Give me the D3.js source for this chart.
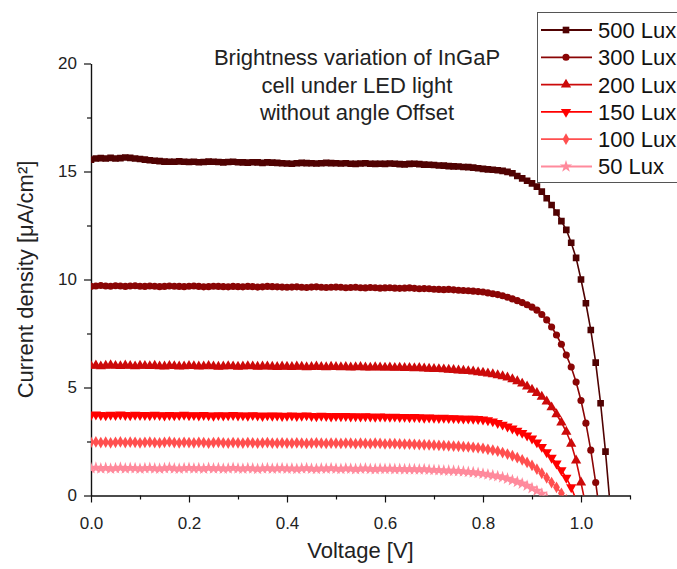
<!DOCTYPE html>
<html>
<head>
<meta charset="utf-8">
<script src="https://cdn.jsdelivr.net/npm/d3@7"></script>
<style>
  body { margin: 0; background: #fff; }
  svg { font-family: 'Liberation Sans', Arial, sans-serif; }
  .axis path, .axis line { stroke: #111; stroke-width: 1.2; }
  .axis text { font-size: 17px; fill: #222; font-family: 'Liberation Sans', Arial, sans-serif; }
</style>
</head>
<body>
<svg width="677" height="569"></svg>
<script>
// Voltage steps (V)
const voltage = [
  0.00, 0.01, 0.02, 0.03, 0.04, 0.05, 0.06, 0.07, 0.08, 0.09, 0.10,
  0.11, 0.12, 0.13, 0.14, 0.15, 0.16, 0.17, 0.18, 0.19, 0.20,
  0.21, 0.22, 0.23, 0.24, 0.25, 0.26, 0.27, 0.28, 0.29, 0.30,
  0.31, 0.32, 0.33, 0.34, 0.35, 0.36, 0.37, 0.38, 0.39, 0.40,
  0.41, 0.42, 0.43, 0.44, 0.45, 0.46, 0.47, 0.48, 0.49, 0.50,
  0.51, 0.52, 0.53, 0.54, 0.55, 0.56, 0.57, 0.58, 0.59, 0.60,
  0.61, 0.62, 0.63, 0.64, 0.65, 0.66, 0.67, 0.68, 0.69, 0.70,
  0.71, 0.72, 0.73, 0.74, 0.75, 0.76, 0.77, 0.78, 0.79, 0.80,
  0.81, 0.82, 0.83, 0.84, 0.85, 0.86, 0.87, 0.88, 0.89, 0.90,
  0.91, 0.92, 0.93, 0.94, 0.95, 0.96, 0.97, 0.98, 0.99, 1.00,
  1.01, 1.02, 1.03, 1.04, 1.05, 1.06
]

// Current density (uA/cm2) per brightness, same index as voltage
const lux500 = [
  15.55, 15.6, 15.62, 15.6, 15.63, 15.6, 15.62, 15.65, 15.63, 15.6, 15.58,
  15.55, 15.52, 15.5, 15.48, 15.46, 15.45, 15.45, 15.47, 15.45, 15.44,
  15.45, 15.43, 15.44, 15.46, 15.45, 15.44, 15.42, 15.44, 15.45, 15.43,
  15.42, 15.41, 15.43, 15.42, 15.4, 15.42, 15.41, 15.4, 15.38, 15.37,
  15.36, 15.38, 15.4, 15.39, 15.38, 15.37, 15.38, 15.4, 15.39, 15.38,
  15.37, 15.38, 15.36, 15.35, 15.37, 15.38, 15.36, 15.35, 15.36, 15.35,
  15.37, 15.36, 15.34, 15.33, 15.35, 15.36, 15.34, 15.32, 15.31, 15.3,
  15.28, 15.27, 15.25, 15.24, 15.23, 15.21, 15.2, 15.18, 15.15, 15.12,
  15.1, 15.08, 15.06, 15.03, 14.98, 14.92, 14.79, 14.68, 14.57, 14.45,
  14.3, 14.07, 13.76, 13.45, 13.1, 12.7, 12.3, 11.7, 11.0, 10.0,
  8.9, 7.66, 6.15, 4.27, 2.03, -0.6
]
const lux300 = [
  9.68, 9.7, 9.72, 9.7, 9.69, 9.71, 9.7, 9.68, 9.7, 9.71, 9.69,
  9.68, 9.7, 9.69, 9.67, 9.68, 9.7, 9.69, 9.68, 9.67, 9.69,
  9.7, 9.68, 9.66, 9.67, 9.69, 9.68, 9.67, 9.66, 9.68, 9.67,
  9.66, 9.68, 9.67, 9.65, 9.66, 9.68, 9.67, 9.66, 9.65, 9.64,
  9.65, 9.66, 9.64, 9.63, 9.65, 9.66, 9.64, 9.63, 9.64, 9.65,
  9.64, 9.62, 9.63, 9.64, 9.62, 9.61, 9.63, 9.62, 9.6, 9.61,
  9.62, 9.6, 9.59, 9.6, 9.61, 9.59, 9.57, 9.58, 9.57, 9.55,
  9.54, 9.53, 9.54, 9.52, 9.5, 9.49, 9.48, 9.46, 9.44, 9.42,
  9.38, 9.34, 9.3, 9.25, 9.18, 9.1, 9.02, 8.93, 8.83, 8.72,
  8.58, 8.38, 8.13, 7.8, 7.43, 7.0, 6.5, 5.95, 5.25, 4.4,
  3.35, 2.1, 0.6, -1.1
]
const lux200 = [
  6.0, 6.02, 5.98, 6.01, 6.03, 6.0, 5.99, 6.02, 6.0, 5.98, 6.01,
  6.0, 5.99, 6.01, 5.98, 5.97, 6.0, 5.99, 5.97, 5.98, 6.0,
  5.99, 5.97, 5.98, 6.0, 5.98, 5.96, 5.97, 5.99, 5.98, 5.96,
  5.97, 5.99, 5.98, 5.96, 5.97, 5.98, 5.96, 5.95, 5.97, 5.96,
  5.95, 5.97, 5.96, 5.94, 5.95, 5.97, 5.95, 5.94, 5.96, 5.95,
  5.94, 5.95, 5.93, 5.94, 5.95, 5.93, 5.92, 5.94, 5.93, 5.92,
  5.93, 5.91, 5.92, 5.9, 5.91, 5.89, 5.9, 5.88, 5.87, 5.86,
  5.85, 5.84, 5.82, 5.81, 5.79, 5.78, 5.76, 5.74, 5.71, 5.68,
  5.65, 5.61, 5.57, 5.52, 5.46, 5.38, 5.29, 5.18, 5.05, 4.9,
  4.75, 4.57, 4.35, 4.08, 3.76, 3.38, 2.95, 2.4, 1.62, 0.6,
  -0.5
]
const lux150 = [
  3.72, 3.75, 3.73, 3.71, 3.74, 3.72, 3.75, 3.73, 3.71, 3.74, 3.72,
  3.73, 3.71, 3.74, 3.72, 3.7, 3.73, 3.71, 3.72, 3.74, 3.71,
  3.72, 3.7, 3.73, 3.71, 3.69, 3.72, 3.7, 3.71, 3.73, 3.7,
  3.71, 3.69, 3.72, 3.7, 3.68, 3.71, 3.69, 3.7, 3.68, 3.69,
  3.7, 3.68, 3.69, 3.71, 3.68, 3.67, 3.69, 3.68, 3.66, 3.68,
  3.67, 3.68, 3.66, 3.67, 3.65, 3.67, 3.66, 3.64, 3.66, 3.65,
  3.64, 3.65, 3.63, 3.64, 3.62, 3.63, 3.62, 3.6, 3.61, 3.6,
  3.59, 3.6, 3.58, 3.58, 3.57, 3.56, 3.56, 3.55, 3.54, 3.52,
  3.48, 3.43, 3.36, 3.28, 3.19, 3.1, 3.0, 2.9, 2.78, 2.64,
  2.46, 2.25, 2.0, 1.75, 1.48, 1.17, 0.82, 0.38, -0.2
]
const lux100 = [
  2.46, 2.48, 2.45, 2.47, 2.44, 2.46, 2.48, 2.45, 2.47, 2.46, 2.44,
  2.46, 2.47, 2.45, 2.44, 2.46, 2.48, 2.45, 2.44, 2.46, 2.45,
  2.44, 2.46, 2.45, 2.43, 2.45, 2.46, 2.44, 2.43, 2.45, 2.44,
  2.43, 2.45, 2.44, 2.42, 2.44, 2.45, 2.43, 2.42, 2.44, 2.43,
  2.42, 2.44, 2.43, 2.41, 2.43, 2.44, 2.42, 2.41, 2.43, 2.42,
  2.41, 2.43, 2.42, 2.4, 2.42, 2.41, 2.4, 2.42, 2.41, 2.39,
  2.4, 2.4, 2.39, 2.38, 2.38, 2.37, 2.36, 2.35, 2.34, 2.33,
  2.32, 2.31, 2.3, 2.29, 2.28, 2.26, 2.25, 2.23, 2.21, 2.18,
  2.14, 2.1, 2.05, 1.99, 1.92, 1.84, 1.75, 1.65, 1.53, 1.39,
  1.22, 1.03, 0.82, 0.6, 0.38, 0.1, -0.2
]
const lux50 = [
  1.26, 1.28, 1.25, 1.27, 1.24, 1.26, 1.28, 1.25, 1.27, 1.26, 1.24,
  1.26, 1.27, 1.25, 1.24, 1.26, 1.28, 1.25, 1.24, 1.26, 1.27,
  1.25, 1.26, 1.24, 1.27, 1.25, 1.26, 1.24, 1.25, 1.27, 1.25,
  1.24, 1.26, 1.25, 1.23, 1.25, 1.26, 1.24, 1.25, 1.26, 1.24,
  1.25, 1.23, 1.25, 1.26, 1.24, 1.23, 1.25, 1.24, 1.26, 1.24,
  1.23, 1.25, 1.24, 1.22, 1.24, 1.25, 1.23, 1.22, 1.24, 1.23,
  1.24, 1.22, 1.23, 1.21, 1.22, 1.21, 1.2, 1.21, 1.19, 1.18,
  1.17, 1.16, 1.15, 1.14, 1.13, 1.11, 1.09, 1.07, 1.04, 1.01,
  0.97, 0.93, 0.89, 0.84, 0.78, 0.71, 0.63, 0.55, 0.45, 0.34,
  0.22, 0.08, -0.1
]

const seriesNames = ['500 Lux', '300 Lux', '200 Lux', '150 Lux', '100 Lux', '50 Lux']
const xTicks = [0.0, 0.2, 0.4, 0.6, 0.8, 1.0]
const xMinorTicks = [0.1, 0.3, 0.5, 0.7, 0.9, 1.1]
const yTicks = [0, 5, 10, 15, 20]
const yMinorTicks = [2.5, 7.5, 12.5, 17.5]
const titleLines = ['Brightness variation of InGaP', 'cell under LED light', 'without angle Offset']

const chartInit = () => {
  const svg = d3.select('svg')

  let xPixelMin = 91
  let xPixelMax = 630
  let yPixelMin = 63.5
  let yPixelMax = 495.5

  const colors = ['#500202', '#8a0505', '#cc0a0a', '#ff0000', '#ff4f4f', '#ff8a9c']
  const symbols = [
    d3.symbol(d3.symbolSquare, 44),
    d3.symbol(d3.symbolCircle, 40),
    d3.symbol(d3.symbolTriangle, 46),
    d3.symbol(d3.symbolTriangle, 46),
    d3.symbol(d3.symbolDiamond, 40),
    d3.symbol(d3.symbolStar, 48)
  ]
  const flips = [false, false, false, true, false, false]

  const allSeries = [lux500, lux300, lux200, lux150, lux100, lux50].map((vals, i) => ({
    name: seriesNames[i],
    color: colors[i],
    points: vals.map((j, k) => ({ v: voltage[k], j: j }))
  }))

  // Scales
  let xScale = d3.scaleLinear().domain([0, 1.1]).range([xPixelMin, xPixelMax])
  let yScale = d3.scaleLinear().domain([0, 20]).range([yPixelMax, yPixelMin])

  // Axes
  svg.append('g')
    .attr('class', 'axis')
    .attr('transform', `translate(0, ${yPixelMax})`)
    .call(d3.axisBottom(xScale).tickValues(xMinorTicks).tickSize(4).tickSizeOuter(0).tickFormat(''))

  svg.append('g')
    .attr('class', 'axis')
    .attr('transform', `translate(0, ${yPixelMax})`)
    .call(d3.axisBottom(xScale).tickValues(xTicks).tickSize(7).tickSizeOuter(0).tickPadding(14).tickFormat(d3.format('.1f')))

  svg.append('g')
    .attr('class', 'axis')
    .attr('transform', `translate(${xPixelMin}, 0)`)
    .call(d3.axisLeft(yScale).tickValues(yMinorTicks).tickSize(4).tickSizeOuter(0).tickFormat(''))

  svg.append('g')
    .attr('class', 'axis')
    .attr('transform', `translate(${xPixelMin}, 0)`)
    .call(d3.axisLeft(yScale).tickValues(yTicks).tickSize(7).tickSizeOuter(0).tickPadding(7))

  // Axis titles
  svg.append('text')
    .attr('x', (xPixelMin + xPixelMax) / 2)
    .attr('y', 558)
    .attr('text-anchor', 'middle')
    .style('font-size', '22px')
    .style('fill', '#222')
    .text('Voltage [V]')

  svg.append('text')
    .attr('transform', `translate(33, ${(yPixelMin + yPixelMax) / 2}) rotate(-90)`)
    .attr('text-anchor', 'middle')
    .style('font-size', '22px')
    .style('fill', '#222')
    .text('Current density [μA/cm²]')

  // Title
  svg.append('g')
    .selectAll('text')
    .data(titleLines)
    .enter()
    .append('text')
    .attr('x', 357)
    .attr('y', (d, i) => 65 + i * 27.5)
    .attr('text-anchor', 'middle')
    .style('font-size', '22px')
    .style('fill', '#222')
    .text((d) => d)

  // Plot clip
  svg.append('clipPath')
    .attr('id', 'plotClip')
    .append('rect')
    .attr('x', xPixelMin)
    .attr('y', yPixelMin - 10)
    .attr('width', xPixelMax - xPixelMin)
    .attr('height', yPixelMax - yPixelMin + 10)

  const plot = svg.append('g').attr('clip-path', 'url(#plotClip)')

  let line = d3.line()
    .x((d) => xScale(d.v))
    .y((d) => yScale(d.j))

  allSeries.forEach((s, i) => {
    plot.append('path')
      .attr('d', line(s.points))
      .attr('fill', 'none')
      .attr('stroke', s.color)
      .attr('stroke-width', 1.6)

    plot.selectAll('path.m' + i)
      .data(s.points)
      .enter()
      .append('path')
      .attr('class', 'm' + i)
      .attr('d', symbols[i]())
      .attr('transform', (d) => `translate(${xScale(d.v)}, ${yScale(d.j)})` + (flips[i] ? ' rotate(180)' : ''))
      .style('fill', s.color)
  })

  // Legend
  const legend = svg.append('g')
  legend.append('rect')
    .attr('x', 537.5)
    .attr('y', 12.5)
    .attr('width', 160)
    .attr('height', 170)
    .attr('fill', '#fff')
    .attr('stroke', '#555')
    .attr('stroke-width', 1)

  allSeries.forEach((s, i) => {
    let ly = 30 + i * 27.3
    legend.append('line')
      .attr('x1', 541).attr('x2', 592)
      .attr('y1', ly).attr('y2', ly)
      .attr('stroke', s.color)
      .attr('stroke-width', 1.8)
    legend.append('path')
      .attr('d', symbols[i]())
      .attr('transform', `translate(566, ${ly})` + (flips[i] ? ' rotate(180)' : ''))
      .style('fill', s.color)
    legend.append('text')
      .attr('x', 598)
      .attr('y', ly)
      .attr('dy', '0.36em')
      .style('font-size', '22px')
      .style('fill', '#111')
      .text(s.name)
  })
}

chartInit()
</script>
</body>
</html>
